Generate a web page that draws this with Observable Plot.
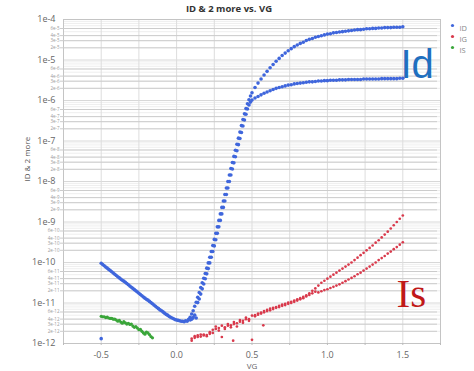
<!DOCTYPE html>
<html><head><meta charset="utf-8">
<script src="https://cdn.jsdelivr.net/npm/d3@7"></script>
<script src="https://cdn.jsdelivr.net/npm/@observablehq/plot@0.6"></script>
<style>body{margin:0;background:#fff;font-family:"Open Sans",sans-serif}</style>
</head><body><div id="chart"></div>
<script>
// Values: [VG (V), log10 of current (A)]
const idSweep1 = [
[-0.50,-10.02],[-0.48,-10.08],[-0.46,-10.14],[-0.44,-10.20],[-0.42,-10.26],[-0.40,-10.32],[-0.38,-10.38],[-0.36,-10.44],[-0.34,-10.49],[-0.32,-10.55],
[-0.30,-10.61],[-0.28,-10.67],[-0.26,-10.73],[-0.24,-10.79],[-0.22,-10.85],[-0.20,-10.91],[-0.18,-10.96],[-0.16,-11.02],[-0.14,-11.08],[-0.12,-11.14],
[-0.10,-11.19],[-0.08,-11.25],[-0.06,-11.30],[-0.04,-11.35],[-0.02,-11.39],[0.00,-11.42],[0.02,-11.44],[0.04,-11.45],[0.06,-11.44],[0.08,-11.40],
[0.09,-11.35],[0.10,-11.27],[0.11,-11.19],[0.12,-11.08],[0.13,-10.98],[0.14,-10.86],[0.15,-10.74],[0.16,-10.62],[0.17,-10.50],[0.18,-10.39],
[0.19,-10.27],[0.20,-10.14],[0.21,-10.01],[0.22,-9.87],[0.23,-9.73],[0.24,-9.58],[0.25,-9.43],[0.26,-9.28],[0.27,-9.12],[0.28,-8.96],
[0.29,-8.80],[0.30,-8.64],[0.31,-8.48],[0.32,-8.32],[0.33,-8.16],[0.34,-8.00],[0.35,-7.84],[0.36,-7.68],[0.37,-7.53],[0.38,-7.38],
[0.39,-7.23],[0.40,-7.08],[0.41,-6.93],[0.42,-6.78],[0.43,-6.62],[0.44,-6.47],[0.45,-6.33],[0.46,-6.20],[0.47,-6.08],[0.48,-5.98],
[0.49,-5.89],[0.50,-5.81],[0.52,-5.68],[0.54,-5.57],[0.56,-5.47],[0.58,-5.37],[0.60,-5.28],[0.62,-5.19],[0.64,-5.11],[0.66,-5.03],
[0.68,-4.96],[0.70,-4.89],[0.72,-4.83],[0.74,-4.77],[0.76,-4.72],[0.78,-4.67],[0.80,-4.63],[0.82,-4.59],[0.84,-4.56],[0.86,-4.52],
[0.88,-4.49],[0.90,-4.47],[0.92,-4.44],[0.94,-4.42],[0.96,-4.40],[0.98,-4.38],[1.00,-4.36],[1.02,-4.35],[1.04,-4.33],[1.06,-4.32],
[1.08,-4.31],[1.10,-4.30],[1.12,-4.29],[1.14,-4.28],[1.16,-4.27],[1.18,-4.26],[1.20,-4.25],[1.22,-4.25],[1.24,-4.24],[1.26,-4.23],
[1.28,-4.23],[1.30,-4.22],[1.32,-4.22],[1.34,-4.21],[1.36,-4.21],[1.38,-4.20],[1.40,-4.20],[1.42,-4.20],[1.44,-4.19],[1.46,-4.19],
[1.48,-4.19],[1.50,-4.18]
];
const idSweep2 = [
[-0.50,-11.88],[-0.49,-10.05],[-0.47,-10.11],[-0.45,-10.17],[-0.43,-10.23],[-0.41,-10.29],[-0.39,-10.35],[-0.37,-10.41],[-0.35,-10.46],[-0.33,-10.52],
[-0.31,-10.58],[-0.29,-10.64],[-0.27,-10.70],[-0.25,-10.76],[-0.23,-10.82],[-0.21,-10.88],[-0.19,-10.93],[-0.17,-10.99],[-0.15,-11.05],[-0.13,-11.11],
[-0.11,-11.17],[-0.09,-11.22],[-0.07,-11.28],[-0.05,-11.33],[-0.03,-11.37],[-0.01,-11.41],[0.01,-11.43],[0.03,-11.45],[0.05,-11.46],[0.07,-11.45],
[0.09,-11.42],[0.10,-11.40],[0.11,-11.36],[0.12,-11.30],[0.13,-11.37],[0.14,-10.99],[0.15,-10.90],[0.16,-10.78],[0.17,-10.65],[0.18,-10.53],
[0.19,-10.40],[0.20,-10.28],[0.21,-10.15],[0.22,-10.01],[0.23,-9.87],[0.24,-9.73],[0.25,-9.59],[0.26,-9.44],[0.27,-9.28],[0.28,-9.12],
[0.29,-8.96],[0.30,-8.80],[0.31,-8.64],[0.32,-8.48],[0.33,-8.32],[0.34,-8.16],[0.35,-8.00],[0.36,-7.84],[0.37,-7.69],[0.38,-7.54],
[0.39,-7.39],[0.40,-7.24],[0.41,-7.09],[0.42,-6.94],[0.43,-6.79],[0.44,-6.63],[0.45,-6.48],[0.46,-6.34],[0.47,-6.21],[0.48,-6.11],
[0.49,-6.04],[0.50,-5.99],[0.52,-5.94],[0.54,-5.90],[0.56,-5.86],[0.58,-5.82],[0.60,-5.79],[0.62,-5.76],[0.64,-5.73],[0.66,-5.70],
[0.68,-5.68],[0.70,-5.66],[0.72,-5.64],[0.74,-5.62],[0.76,-5.61],[0.78,-5.59],[0.80,-5.58],[0.82,-5.57],[0.84,-5.56],[0.86,-5.55],
[0.88,-5.54],[0.90,-5.54],[0.92,-5.53],[0.94,-5.52],[0.96,-5.52],[0.98,-5.51],[1.00,-5.51],[1.02,-5.50],[1.04,-5.50],[1.06,-5.50],
[1.08,-5.49],[1.10,-5.49],[1.12,-5.49],[1.14,-5.48],[1.16,-5.48],[1.18,-5.48],[1.20,-5.48],[1.22,-5.48],[1.24,-5.47],[1.26,-5.47],
[1.28,-5.47],[1.30,-5.47],[1.32,-5.47],[1.34,-5.47],[1.36,-5.46],[1.38,-5.46],[1.40,-5.46],[1.42,-5.46],[1.44,-5.46],[1.46,-5.46],
[1.48,-5.45],[1.50,-5.45]
];
const igSweep1 = [
[0.10,-11.93],[0.12,-11.82],[0.14,-11.84],[0.16,-11.78],[0.18,-11.80],[0.20,-11.79],[0.22,-11.76],[0.24,-11.66],[0.26,-11.58],[0.28,-11.62],
[0.30,-11.56],[0.32,-11.60],[0.34,-11.52],[0.36,-11.55],[0.38,-11.47],[0.40,-11.50],[0.42,-11.42],[0.44,-11.44],[0.46,-11.36],[0.48,-11.40],
[0.50,-11.31],[0.52,-11.30],[0.54,-11.26],[0.56,-11.24],[0.58,-11.20],[0.60,-11.17],[0.62,-11.14],[0.64,-11.12],[0.66,-11.10],[0.68,-11.07],
[0.70,-11.04],[0.72,-11.02],[0.74,-10.99],[0.76,-10.97],[0.78,-10.94],[0.80,-10.91],[0.82,-10.88],[0.84,-10.85],[0.86,-10.81],[0.88,-10.76],
[0.90,-10.70],[0.92,-10.64],[0.94,-10.57],[0.96,-10.50],[0.98,-10.45],[1.00,-10.40],[1.02,-10.35],[1.04,-10.30],[1.06,-10.25],[1.08,-10.20],
[1.10,-10.15],[1.12,-10.10],[1.14,-10.05],[1.16,-10.00],[1.18,-9.94],[1.20,-9.88],[1.22,-9.82],[1.24,-9.76],[1.26,-9.70],[1.28,-9.64],
[1.30,-9.58],[1.32,-9.51],[1.34,-9.45],[1.36,-9.38],[1.38,-9.31],[1.40,-9.24],[1.42,-9.16],[1.44,-9.08],[1.46,-9.00],[1.48,-8.92],
[1.50,-8.84]
];
const igSweep2 = [
[0.10,-11.88],[0.12,-11.86],[0.14,-11.80],[0.16,-11.83],[0.18,-11.78],[0.20,-11.82],[0.22,-11.72],[0.24,-11.74],[0.26,-11.64],[0.28,-11.68],
[0.30,-11.84],[0.32,-11.64],[0.34,-11.56],[0.36,-11.60],[0.375,-11.93],[0.38,-11.52],[0.40,-11.58],[0.42,-11.46],[0.44,-11.49],[0.46,-11.40],
[0.48,-11.44],[0.50,-11.91],[0.52,-11.33],[0.54,-11.29],[0.56,-11.26],[0.575,-11.55],[0.58,-11.23],[0.60,-11.20],[0.62,-11.18],[0.64,-11.15],
[0.66,-11.12],[0.68,-11.10],[0.70,-11.07],[0.72,-11.05],[0.74,-11.02],[0.76,-11.00],[0.78,-10.97],[0.80,-10.94],[0.82,-10.91],[0.84,-10.88],
[0.86,-10.84],[0.88,-10.80],[0.90,-10.76],[0.92,-10.72],[0.94,-10.74],[0.96,-10.71],[0.98,-10.68],[1.00,-10.66],[1.02,-10.63],[1.04,-10.60],
[1.06,-10.57],[1.08,-10.54],[1.10,-10.50],[1.12,-10.46],[1.14,-10.42],[1.16,-10.38],[1.18,-10.34],[1.20,-10.29],[1.22,-10.25],[1.24,-10.20],
[1.26,-10.15],[1.28,-10.10],[1.30,-10.05],[1.32,-10.00],[1.34,-9.94],[1.36,-9.89],[1.38,-9.84],[1.40,-9.78],[1.42,-9.73],[1.44,-9.67],
[1.46,-9.62],[1.48,-9.56],[1.50,-9.50]
];
const isSweep = [
[-0.50,-11.33],[-0.49,-11.34],[-0.48,-11.34],[-0.47,-11.36],[-0.46,-11.35],[-0.45,-11.37],[-0.44,-11.38],[-0.43,-11.38],[-0.42,-11.40],[-0.41,-11.40],
[-0.40,-11.42],[-0.39,-11.45],[-0.38,-11.43],[-0.37,-11.47],[-0.36,-11.50],[-0.35,-11.46],[-0.34,-11.49],[-0.33,-11.52],[-0.32,-11.50],[-0.31,-11.53],
[-0.30,-11.52],[-0.29,-11.57],[-0.28,-11.60],[-0.27,-11.58],[-0.26,-11.62],[-0.25,-11.66],[-0.24,-11.65],[-0.23,-11.70],[-0.22,-11.74],[-0.21,-11.77],
[-0.20,-11.72],[-0.19,-11.74],[-0.18,-11.78],[-0.17,-11.83],[-0.16,-11.86]
];

const decadeTicks = [1e-12,1e-11,1e-10,1e-9,1e-8,1e-7,1e-6,1e-5,1e-4];
const decadeLabels = ["1e-12","1e-11","1e-10","1e-9","1e-8","1e-7","1e-6","1e-5","1e-4"];
const minorMultipliers = [2,3,4,5,6,7,8,9];
const minorLabelMultipliers = [2,3,4,6];
const xTicks = [-0.5,0,0.5,1,1.5];
const xTickLabels = ["-0.5","0.0","0.5","1.0","1.5"];
const xGrid = [-0.75,-0.5,-0.25,0,0.25,0.5,0.75,1,1.25,1.5,1.75];
const seriesNames = ["ID","IG","IS"];
const seriesColors = ["#3f66dc","#d93a4c","#3aa63a"];
const title = "ID & 2 more vs. VG";
const yTitle = "ID & 2 more";
const xTitle = "VG";

const rows = (arr, s) => arr.map(([vg, e]) => ({vg, cur: Math.pow(10, e), s}));
const blue = rows(idSweep1, "ID").concat(rows(idSweep2, "ID"));
const red = rows(igSweep1, "IG").concat(rows(igSweep2, "IG"));
const green = rows(isSweep, "IS");

const minorTicks = [];
decadeTicks.slice(0, -1).forEach(d => minorMultipliers.forEach(m => minorTicks.push(d * m)));
const minorLabelRows = [];
decadeTicks.slice(0, -1).forEach((d, k) => minorLabelMultipliers.forEach(m => minorLabelRows.push({v: d * m, t: m + "e" + (k - 12)})));

const legendMarks = [];
seriesNames.forEach((n, i) => {
  legendMarks.push(Plot.dot([n], {frameAnchor: "top-right", dx: 12, dy: 6 + i * 11, r: 1.6, fill: seriesColors[i], stroke: null}));
  legendMarks.push(Plot.text([n], {frameAnchor: "top-right", dx: 19, dy: 6 + i * 11, text: d => d, textAnchor: "start", fontSize: 7.5, fill: "#888", fontFamily: "Open Sans"}));
});

const chart = Plot.plot({
  width: 474, height: 371,
  marginLeft: 63, marginRight: 34, marginTop: 19, marginBottom: 28,
  style: {fontFamily: "Open Sans", background: "#fff"},
  x: {domain: [-0.75, 1.75]},
  y: {type: "log", domain: [1e-12, 1e-4]},
  marks: [
    Plot.gridY(minorTicks, {stroke: "#eeeeee", strokeOpacity: 1}),
    Plot.gridY(decadeTicks, {stroke: "#d8d8d8", strokeOpacity: 1}),
    Plot.gridX(xGrid, {stroke: "#dddddd", strokeOpacity: 1}),
    Plot.frame({stroke: "#c4c4c4"}),
    Plot.axisY(decadeTicks, {tickSize: 0, tickPadding: 8, tickFormat: (d) => decadeLabels[decadeTicks.indexOf(d)], fontSize: 9, fill: "#666", label: null}),
    Plot.tickY(minorLabelRows, {y: "v", frameAnchor: "left", dx: -3, stroke: "#ccc", inset: 0, x1: null, x2: null}),
    Plot.text(minorLabelRows, {y: "v", text: "t", frameAnchor: "left", dx: -4, textAnchor: "end", fontSize: 4.5, fill: "#9a9a9a"}),
    Plot.axisX(xGrid, {tickSize: 2, tickFormat: () => "", stroke: "#bbb", label: null}),
    Plot.axisX(xTicks, {tickSize: 0, tickPadding: 8, tickFormat: (d) => xTickLabels[xTicks.indexOf(d)], fontSize: 9, fill: "#666", label: null}),
    Plot.dot(green, {x: "vg", y: "cur", r: 1.6, fill: seriesColors[2], stroke: null}),
    Plot.dot(red, {x: "vg", y: "cur", r: 1.35, fill: seriesColors[1], stroke: null}),
    Plot.dot(blue, {x: "vg", y: "cur", r: 1.8, fill: seriesColors[0], stroke: null}),
    Plot.text([title], {frameAnchor: "top", dx: -23, dy: -8, text: d => d, fontWeight: "bold", fontSize: 9.5, fill: "#333", lineAnchor: "bottom"}),
    Plot.text([yTitle], {frameAnchor: "left", dx: -36, rotate: -90, text: d => d, fontSize: 8, fill: "#555"}),
    Plot.text([xTitle], {frameAnchor: "bottom", dy: 25, text: d => d, fontSize: 8, fill: "#666", lineAnchor: "bottom"}),
    Plot.text(["Id"], {frameAnchor: "top-left", dx: 337, dy: 58, text: d => d, fontSize: 40, fill: "#1f6fbf", textAnchor: "start", lineAnchor: "bottom", fontFamily: "Liberation Sans"}),
    Plot.text(["Is"], {frameAnchor: "top-left", dx: 333, dy: 287, text: d => d, fontSize: 41, fill: "#c01818", textAnchor: "start", lineAnchor: "bottom", fontFamily: "Liberation Serif"}),
    ...legendMarks
  ]
});
document.getElementById("chart").appendChild(chart);
</script>
</body></html>
